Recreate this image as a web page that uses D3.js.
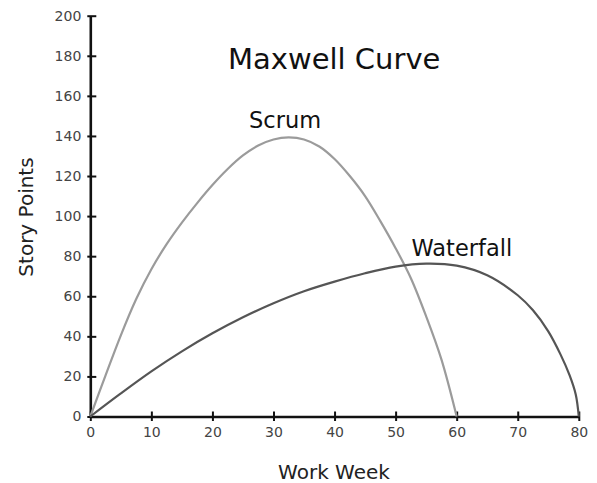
<!DOCTYPE html>
<html>
<head>
<meta charset="utf-8">
<script src="https://cdn.jsdelivr.net/npm/d3@7"></script>
<style>
  html, body { margin: 0; padding: 0; background: #fff; }
  svg { display: block; }
  text { font-family: "DejaVu Sans", sans-serif; }
</style>
</head>
<body>
<svg id="chart" width="597" height="483"></svg>
<script>
// ---- data ----
const xTicks = [0, 10, 20, 30, 40, 50, 60, 70, 80];
const yTicks = [0, 20, 40, 60, 80, 100, 120, 140, 160, 180, 200];

const scrumWeeks  = [0, 2.5, 5, 7.5, 10, 12.5, 15, 17.5, 20, 22.5, 25, 27.5, 30, 32.5, 35, 37.5, 40, 42.5, 45, 47.5, 50, 52.5, 55, 57.5, 60];
const scrumPoints = [0, 20.5, 40.5, 58.5, 73.5, 86, 96.75, 106.5, 115.5, 123.5, 130.25, 135.25, 138.25, 139.25, 138.25, 134.75, 128.5, 120, 110, 97.5, 84, 69, 50, 28.5, 0];

const waterfallWeeks  = [0, 5, 10, 15, 20, 25, 30, 35, 40, 45, 50, 55, 60, 65, 70, 72.5, 75, 77, 78.5, 79.5, 80];
const waterfallPoints = [0, 11.5, 22.5, 32.5, 41.5, 49.5, 56.5, 62.5, 67.3, 71.5, 74.8, 76.3, 75.3, 70.5, 60.5, 53, 42.5, 31, 20.5, 11, 0];

const seriesNames = ["Scrum", "Waterfall"];
const title = "Maxwell Curve";
const xTitle = "Work Week";
const yTitle = "Story Points";

// ---- layout ----
const svg = d3.select("#chart");
const x = d3.scaleLinear().domain([0, 80]).range([90.3, 578.8]);
const y = d3.scaleLinear().domain([0, 200]).range([416.5, 15.7]);

// y axis
const gy = svg.append("g").attr("transform", `translate(${x(0)},0)`)
  .call(d3.axisLeft(y).tickValues(yTicks).tickSizeInner(-6).tickSizeOuter(0).tickPadding(9));
gy.select(".domain").attr("stroke", "#111").attr("stroke-width", 2.6);
gy.selectAll(".tick line").attr("x1", -3).attr("stroke", "#111").attr("stroke-width", 2);
gy.selectAll(".tick text").attr("font-size", 14).attr("fill", "#444")
  .attr("font-family", "DejaVu Sans, sans-serif");

// x axis
const gx = svg.append("g").attr("transform", `translate(0,${y(0)})`)
  .call(d3.axisBottom(x).tickValues(xTicks).tickSizeInner(-5).tickSizeOuter(0).tickPadding(11));
gx.select(".domain").attr("stroke", "#111").attr("stroke-width", 2.6);
gx.selectAll(".tick line").attr("y1", 4.5).attr("stroke", "#111").attr("stroke-width", 2);
gx.selectAll(".tick text").attr("font-size", 14).attr("fill", "#444")
  .attr("font-family", "DejaVu Sans, sans-serif");

// curves
const line = d3.line().x(d => x(d[0])).y(d => y(d[1])).curve(d3.curveCatmullRom.alpha(0.5));
const series = [
  { name: seriesNames[0], pts: d3.zip(scrumWeeks, scrumPoints), color: "#9b9b9b" },
  { name: seriesNames[1], pts: d3.zip(waterfallWeeks, waterfallPoints), color: "#555555" }
];
svg.selectAll("path.series").data(series).enter().append("path")
  .attr("class", "series")
  .attr("d", d => line(d.pts))
  .attr("fill", "none")
  .attr("stroke", d => d.color)
  .attr("stroke-width", 2.2);

// labels
svg.append("text").attr("x", 228).attr("y", 69).attr("font-size", 29).attr("fill", "#111")
  .text(title);
svg.append("text").attr("x", 249).attr("y", 128).attr("font-size", 22.5).attr("fill", "#111")
  .text(seriesNames[0]);
svg.append("text").attr("x", 411.5).attr("y", 256).attr("font-size", 22.5).attr("fill", "#111")
  .text(seriesNames[1]);
svg.append("text").attr("x", 334).attr("y", 479).attr("font-size", 20).attr("fill", "#222")
  .attr("text-anchor", "middle").text(xTitle);
svg.append("text").attr("transform", "translate(33,217) rotate(-90)")
  .attr("font-size", 20).attr("fill", "#222").attr("text-anchor", "middle").text(yTitle);
</script>
</body>
</html>
